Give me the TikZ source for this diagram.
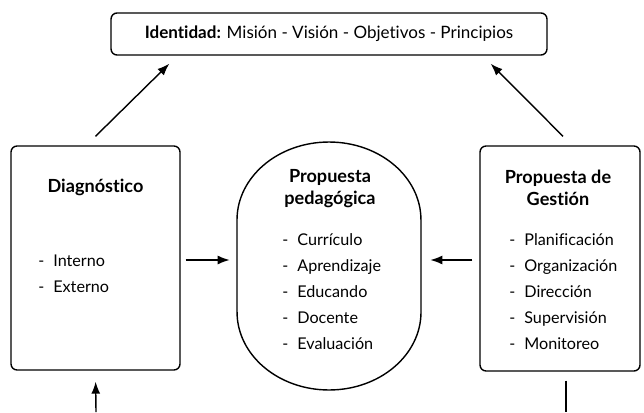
\documentclass[tikz,border=0pt]{standalone}
\usepackage{fontspec}
\setmainfont{Lato}[Ligatures=NoCommon]
\usetikzlibrary{arrows.meta}
\begin{document}
\begin{tikzpicture}[x=0.02cm, y=-0.02cm,
  caja/.style={draw, line width=0.8pt, rounded corners=0.12cm},
  titulo/.style={font=\bfseries\fontsize{10.3}{12.6}\selectfont, align=center},
  item/.style={anchor=base west, inner sep=0pt, font=\fontsize{9.2}{11}\selectfont},
  flecha/.style={-{Latex[length=2.4mm,width=1.8mm]}, line width=0.8pt}]
\useasboundingbox (0,0) rectangle (644,412);
% cajas
\node[caja, minimum width=8.72cm, minimum height=0.84cm, font=\fontsize{9.7}{11}\selectfont] (iden) at (329,34) {\textbf{Identidad:} Misión - Visión - Objetivos - Principios};
\node[caja, minimum width=3.38cm, minimum height=4.48cm] (diag) at (95.5,258) {};
\node[caja, minimum width=3.2cm, minimum height=4.5cm] (gest) at (560,258.5) {};
\draw[line width=0.8pt] (237,220) arc[start angle=180, end angle=0, x radius=1.84cm, y radius=1.56cm]
  -- (421,312) arc[start angle=0, end angle=-180, x radius=1.84cm, y radius=1.56cm] -- cycle;
\node[minimum width=3.68cm, minimum height=4cm] (ped) at (329,260) {};
% textos
\node[titulo, anchor=base] (tdiag) at (95.5,192) {Diagnóstico};
\foreach \t [count=\i] in {Interno,Externo}
  \node[item] (ditem\i) at (38,{266+26.5*(\i-1)}) {\makebox[0.3cm][l]{-}\t};
\node[titulo] (tped) at (330,189) {Propuesta\\pedagógica};
\foreach \t [count=\i] in {Currículo,Aprendizaje,Educando,Docente,Evaluación}
  \node[item] (pitem\i) at (282,{245+26*(\i-1)}) {\makebox[0.3cm][l]{-}\t};
\node[titulo] (tgest) at (558,187.5) {Propuesta de\\Gestión};
\foreach \t [count=\i] in {Planificación,Organización,Dirección,Supervisión,Monitoreo}
  \node[item] (gitem\i) at (509,{245+26*(\i-1)}) {\makebox[0.3cm][l]{-}\t};
% flechas
\coordinate (abajoIzq) at (96,412);
\coordinate (abajoDer) at (566,412);
\draw[flecha] ([yshift=0.18cm]diag.north) -- ([xshift=1.18cm,yshift=-0.16cm]iden.south west);
\draw[flecha] ([xshift=0.06cm,yshift=0.18cm]gest.north) -- ([xshift=-1.14cm,yshift=-0.16cm]iden.south east);
\draw[flecha, shorten <=0.1cm, shorten >=0.14cm] (diag.east |- ped.west) -- (ped.west);
\draw[flecha, shorten <=0.14cm, shorten >=0.18cm] (gest.west |- ped.east) -- (ped.east);
\draw[flecha, shorten >=0.22cm] (abajoIzq) -- (diag.south);
\draw[line width=0.8pt, shorten <=0.18cm] (abajoDer |- gest.south) -- (abajoDer);
\end{tikzpicture}
\end{document}
